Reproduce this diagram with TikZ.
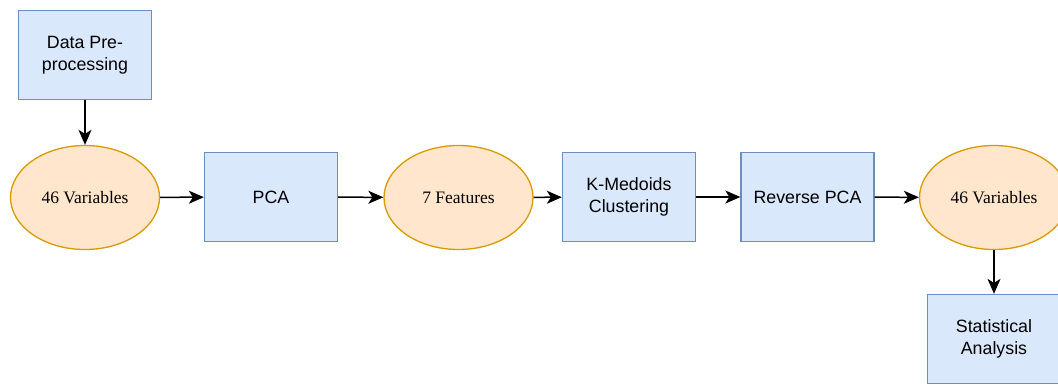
\documentclass[tikz,border=0pt]{standalone}
\usepackage{fontspec}
\setmainfont{Liberation Serif}
\setsansfont{Liberation Sans}
\usetikzlibrary{shapes.geometric,arrows.meta}
\definecolor{boxfill}{HTML}{DAE8FC}
\definecolor{boxline}{HTML}{6C8EBF}
\definecolor{ovalfill}{HTML}{FFE6CC}
\definecolor{ovalline}{HTML}{D79B00}
\begin{document}
\begin{tikzpicture}[x=1pt,y=-1pt,
  stagebox/.style={draw=boxline,fill=boxfill,line width=1.3pt,rectangle,
    minimum width=133pt,minimum height=89pt,inner sep=0pt,align=center,
    font=\sffamily\fontsize{17.8}{22}\selectfont},
  dataoval/.style={draw=ovalline,fill=ovalfill,line width=1.3pt,ellipse,
    minimum width=149pt,minimum height=104pt,inner sep=0pt,align=center,
    font=\rmfamily\fontsize{17.5}{21}\selectfont},
  flow/.style={line width=1.5pt,-{Stealth[length=15pt,width=13pt,inset=4pt]}}]
\useasboundingbox (0,0) rectangle (1058,386);
\node[stagebox] (prep) at (85,55) {Data Pre-\\processing};
\node[dataoval] (vars) at (85,197.5) {46 Variables};
\node[stagebox] (pca) at (271,197) {PCA};
\node[dataoval] (feat) at (458.5,197.5) {7 Features};
\node[stagebox] (kmed) at (629,197) {K-Medoids\\Clustering};
\node[stagebox] (rpca) at (807.5,197) {Reverse PCA};
\node[dataoval] (vars2) at (994,197.5) {46 Variables};
\node[stagebox] (stats) at (994,339) {Statistical\\Analysis};
\draw[flow] (prep) -- (vars);
\draw[flow] (vars) -- (pca);
\draw[flow] (pca) -- (feat);
\draw[flow] (feat) -- (kmed);
\draw[flow] (kmed) -- (rpca);
\draw[flow] (rpca) -- (vars2);
\draw[flow] (vars2) -- (stats);
\end{tikzpicture}
\end{document}
